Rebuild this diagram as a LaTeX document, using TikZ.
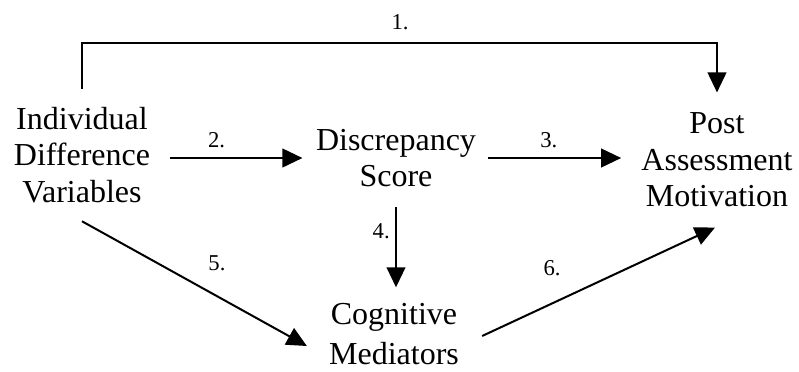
\documentclass[tikz,border=0pt]{standalone}
\usepackage{fontspec}
\setmainfont{Liberation Serif}
\usetikzlibrary{calc,arrows.meta,positioning}

\begin{document}
\begin{tikzpicture}[x=0.75pt, y=-0.75pt,
    box/.style={align=center, inner sep=0pt, font=\fontsize{24}{27.5}\selectfont},
    lbl/.style={inner sep=0pt, font=\fontsize{17}{20}\selectfont},
    link/.style={line width=1.5pt, -{Triangle[length=15pt, width=14pt]}}]
\useasboundingbox (0,0) rectangle (799,371);

% the four boxes
\node[box] (idv) at (82,155) {Individual\\ Difference\\ Variables};
\node[box] (ds)  at (396,158) {Discrepancy\\ Score};
\node[box] (pam) at (717,160) {Post\\ Assessment\\ Motivation};
\node[box] (cm)  at (394,334) {Cognitive\\[2pt] Mediators};

\coordinate (top) at (400,43);

% paths
\draw[link, shorten <=13.5pt, shorten >=15pt] (idv.north) |- (top)
    node[lbl, above=9pt] {1.} -| (pam.north);
\draw[link, shorten <=15pt, shorten >=10pt] (idv.east |- ds.west) --
    node[lbl, pos=0.40, above=7pt] {2.} (ds.west);
\draw[link, shorten <=9pt, shorten >=15pt] (ds.east) --
    node[lbl, pos=0.44, above=7pt] {3.} (ds.east -| pam.west);
\draw[link, shorten <=15pt, shorten >=12pt] (ds.south) --
    node[lbl, pos=0.38, left=4pt] {4.} (ds.south |- cm.north);
\draw[link] ($(idv.south)+(0,18)$) --
    node[lbl, pos=0.6, above=18pt] {5.} ($(cm.west)+(-22,12)$);
\draw[link] ($(cm.east)+(23,2)$) --
    node[lbl, pos=0.3, above=20pt] {6.} ($(pam.south)+(-2,20)$);
\end{tikzpicture}
\end{document}
